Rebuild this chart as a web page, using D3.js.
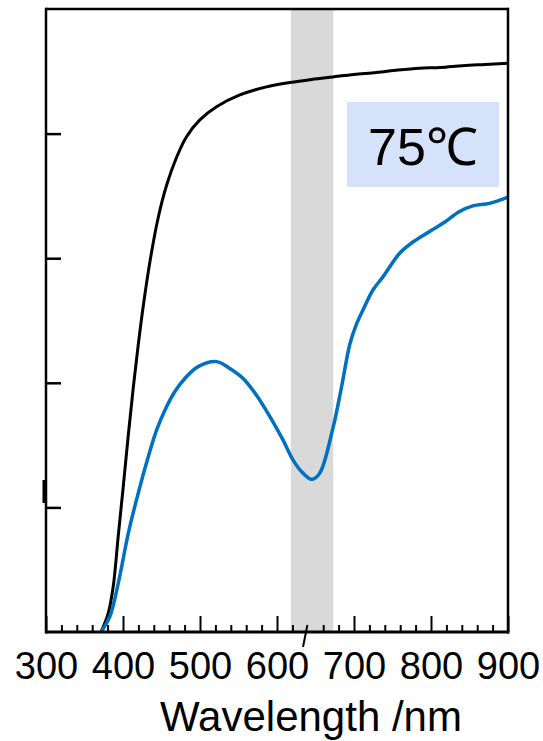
<!DOCTYPE html>
<html>
<head>
<meta charset="utf-8">
<script src="https://cdn.jsdelivr.net/npm/d3@7"></script>
<style>
  html, body { margin: 0; padding: 0; background: #fff; }
  svg { display: block; }
  text { font-family: "Liberation Sans", Arial, sans-serif; fill: #000; }
</style>
</head>
<body>
<svg id="chart" width="543" height="741"></svg>
<script>
// Wavelength (nm) and transmittance (%) for the reference film
const refWavelength = [371.4, 380.8, 387.3, 393.8, 400.3, 406.8, 413.3, 419.8, 426.5, 434.9,
  445.7, 456.6, 469.6, 482.5, 499.8, 521.5, 551.7, 586.3, 616.6, 645, 672.4, 700, 729,
  757, 785.2, 812, 841, 870, 900];
const refTransmittance = [0, 3.0, 7.3, 15.4, 23.3, 31.5, 39.2, 46.1, 52.5, 59.4,
  66.5, 71.7, 76.2, 79.5, 82.2, 84.3, 86.2, 87.5, 88.2, 88.7, 89.1, 89.5, 89.8,
  90.2, 90.5, 90.6, 90.9, 91.1, 91.3];

// Wavelength (nm) and transmittance (%) for the sample at 75 °C
const sampleWavelength = [371.4, 383, 393.8, 406.8, 419.8, 432.7, 443.6, 454.4, 467.4, 480.3,
  497.6, 521.5, 538.7, 556, 573.4, 590.6, 607.9, 620.9, 633.8, 645.5, 655.5,
  672.4, 683.6, 694.4, 702.2, 711.7, 724.6, 737.6, 759.3, 776.5, 798.2, 815.5, 837.1,
  854.4, 876, 900];
const sampleTransmittance = [0, 2.5, 7.8, 15.8, 22.3, 28.1, 32.4, 35.6, 38.6, 40.7,
  42.6, 43.4, 42.3, 40.7, 38.0, 34.6, 30.8, 27.6, 25.5, 24.5, 25.5,
  32.6, 39.2, 46.1, 49.1, 51.7, 54.9, 57.0, 60.8, 62.6, 64.3, 65.6, 67.5,
  68.4, 68.8, 69.8];

// Highlighted absorption band (nm)
const bandRange = [618, 673];

// Axis ticks
const xMajorTicks = [300, 400, 500, 600, 700, 800, 900];
const xMinorTicks = d3.range(300, 901, 20);
const yTicks = [20, 40, 60, 80];
const tempLabel = "75℃";
const xTitle = "Wavelength /nm";

const svg = d3.select("#chart");
const plotLeft = 46, plotRight = 508, plotTop = 9, plotBottom = 632;

const x = d3.scaleLinear().domain([300, 900]).range([plotLeft, plotRight]);
const y = d3.scaleLinear().domain([0, 100]).range([plotBottom, plotTop]);

// highlighted band
svg.append("rect")
  .attr("x", x(bandRange[0]))
  .attr("y", plotTop)
  .attr("width", x(bandRange[1]) - x(bandRange[0]))
  .attr("height", plotBottom - plotTop)
  .attr("fill", "#d9d9d9");

const line = d3.line()
  .x(d => x(d[0]))
  .y(d => y(d[1]))
  .curve(d3.curveCatmullRom.alpha(0.5));

svg.append("path")
  .datum(d3.zip(refWavelength, refTransmittance))
  .attr("d", line)
  .attr("fill", "none")
  .attr("stroke", "#000")
  .attr("stroke-width", 3)
  .attr("stroke-linejoin", "round");

svg.append("path")
  .datum(d3.zip(sampleWavelength, sampleTransmittance))
  .attr("d", line)
  .attr("fill", "none")
  .attr("stroke", "#0070c0")
  .attr("stroke-width", 3.5)
  .attr("stroke-linejoin", "round");

// temperature tag
const tag = svg.append("g");
tag.append("rect")
  .attr("x", 347).attr("y", 102)
  .attr("width", 152).attr("height", 85)
  .attr("fill", "#d5e2fa");
tag.append("text")
  .attr("x", 423).attr("y", 165)
  .attr("text-anchor", "middle")
  .attr("font-size", 52)
  .text(tempLabel);

// bottom axis: minor ticks
const xMinor = d3.axisBottom(x)
  .tickValues(xMinorTicks.filter(v => !xMajorTicks.includes(v) && v !== 640))
  .tickSize(-7).tickFormat("");
svg.append("g")
  .attr("transform", `translate(0,${plotBottom})`)
  .call(xMinor)
  .call(g => g.select(".domain").remove())
  .call(g => g.selectAll(".tick line").attr("stroke-width", 2));

// the 640 nm tick sits skewed across the axis
svg.append("line")
  .attr("x1", x(640) - 0.4).attr("y1", plotBottom - 7)
  .attr("x2", x(640) - 4.8).attr("y2", plotBottom + 15)
  .attr("stroke", "#000").attr("stroke-width", 2);

// bottom axis: major ticks with labels
const xMajor = d3.axisBottom(x)
  .tickValues(xMajorTicks)
  .tickSize(-16)
  .tickPadding(20)
  .tickFormat(d3.format("d"));
svg.append("g")
  .attr("transform", `translate(0,${plotBottom})`)
  .call(xMajor)
  .call(g => g.select(".domain").remove())
  .call(g => g.selectAll(".tick line").attr("stroke-width", 2))
  .call(g => g.selectAll(".tick text")
    .attr("font-size", 38)
    .attr("font-family", "'Liberation Sans', Arial, sans-serif"));

// left axis: inward ticks, no labels
const yAxis = d3.axisLeft(y).tickValues(yTicks).tickSize(-15).tickFormat("");
svg.append("g")
  .attr("transform", `translate(${plotLeft},0)`)
  .call(yAxis)
  .call(g => g.select(".domain").remove())
  .call(g => g.selectAll(".tick line").attr("stroke-width", 2.5));

// frame
const frame = svg.append("g").attr("stroke", "#000").attr("fill", "none");
frame.append("line").attr("x1", plotLeft).attr("x2", plotRight + 1.25).attr("y1", plotBottom).attr("y2", plotBottom).attr("stroke-width", 3);
frame.append("line").attr("x1", plotLeft).attr("x2", plotLeft).attr("y1", plotTop - 1.25).attr("y2", plotBottom + 1.5).attr("stroke-width", 2.5);
frame.append("line").attr("x1", plotLeft).attr("x2", plotRight).attr("y1", plotTop).attr("y2", plotTop).attr("stroke-width", 2.5);
frame.append("line").attr("x1", plotRight).attr("x2", plotRight).attr("y1", plotTop - 1.25).attr("y2", plotBottom + 1.5).attr("stroke-width", 2.5);

// small notch left of the axis
svg.append("line")
  .attr("x1", plotLeft - 2).attr("x2", plotLeft - 2)
  .attr("y1", 480).attr("y2", 503)
  .attr("stroke", "#000").attr("stroke-width", 3);

// axis title
svg.append("text")
  .attr("x", 160).attr("y", 731)
  .attr("font-size", 42)
  .text(xTitle);
</script>
</body>
</html>
